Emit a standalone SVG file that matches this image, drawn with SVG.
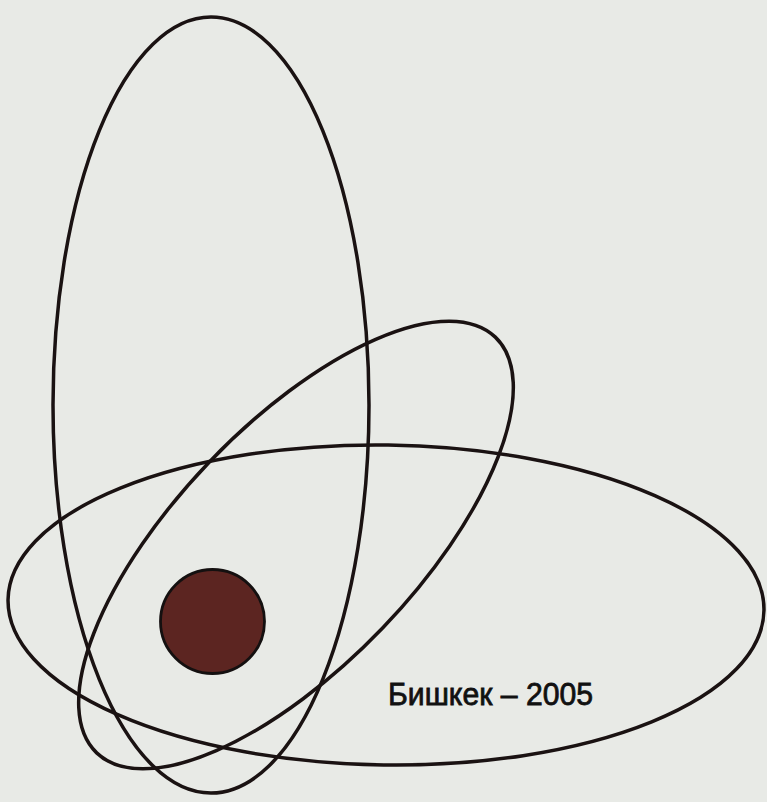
<svg xmlns="http://www.w3.org/2000/svg" width="767" height="802" viewBox="0 0 767 802">
  <style>
    .orbit { fill: none; stroke: #1a1212; stroke-width: 3.5; }
    .label { font-family: "Liberation Sans", Arial, sans-serif; font-size: 32px; fill: #111111; stroke: #111111; stroke-width: 0.8; }
  </style>
  <rect id="background" x="0" y="0" width="767" height="802" fill="#e8eae6"/>
  <g id="orbits">
    <ellipse id="orbit-vertical" class="orbit" cx="211" cy="405" rx="158" ry="388"/>
    <ellipse id="orbit-diagonal" class="orbit" cx="296" cy="545" rx="288" ry="120" transform="rotate(-46.2 296 545)"/>
    <ellipse id="orbit-horizontal" class="orbit" cx="386" cy="605" rx="378" ry="160" transform="rotate(0.8 386 605)"/>
  </g>
  <g id="nucleus">
    <circle cx="212.5" cy="621.5" r="52" fill="#5c2521" stroke="#141010" stroke-width="2.8"/>
  </g>
  <g id="caption">
    <text class="label" x="388" y="705" textLength="205" lengthAdjust="spacingAndGlyphs">Бишкек – 2005</text>
  </g>
</svg>
